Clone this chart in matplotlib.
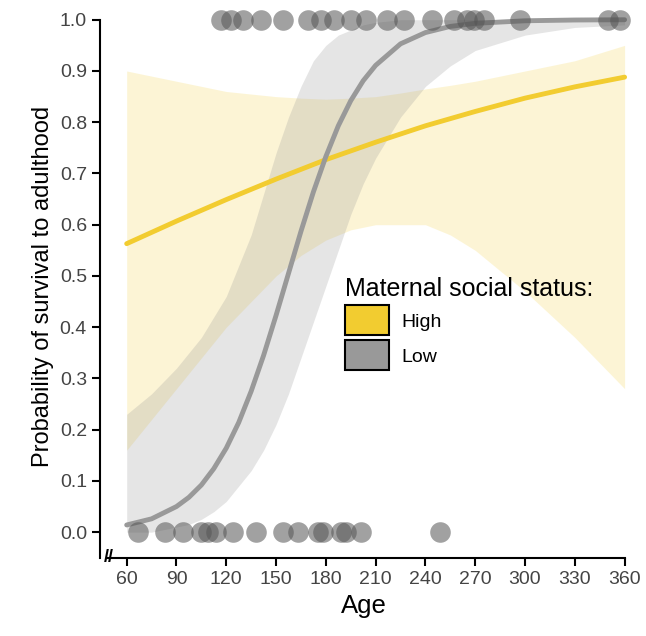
import matplotlib
matplotlib.use("Agg")
import matplotlib.pyplot as plt
from matplotlib.patches import Patch

plt.rcParams["font.family"] = ["Liberation Sans", "DejaVu Sans"]

HIGH_COL = "#f2cc30"
LOW_COL = "#999999"

# observed outcomes (age, survived)
ages_dead = [67, 83, 94, 105, 109, 114, 124, 138, 154, 163, 175, 178, 189, 192, 201, 249]
ages_alive = [117, 123, 130, 141, 154, 169, 177, 185, 195, 204, 217, 227, 244, 257,
              265, 269, 275, 297, 350, 357]

# high-status fit and band
high_ages = [60, 75, 90, 105, 120, 135, 150, 165, 180, 195, 210, 225, 240, 255, 270, 300, 330, 360]
high_fit = [0.563, 0.585, 0.607, 0.628, 0.649, 0.669, 0.689, 0.708, 0.727, 0.744, 0.761,
            0.777, 0.793, 0.807, 0.821, 0.847, 0.869, 0.888]
high_lo = [0.16, 0.22, 0.28, 0.34, 0.40, 0.45, 0.50, 0.54, 0.57, 0.59, 0.60, 0.60, 0.60,
           0.58, 0.55, 0.47, 0.38, 0.28]
high_hi = [0.90, 0.89, 0.88, 0.87, 0.86, 0.855, 0.85, 0.847, 0.845, 0.847, 0.85, 0.857,
           0.865, 0.872, 0.88, 0.90, 0.92, 0.95]

# low-status fit and band
low_ages = [60, 75, 90, 97.5, 105, 112.5, 120, 127.5, 135, 142.5, 150, 157.5, 165, 172.5,
            180, 187.5, 195, 202.5, 210, 225, 240, 255, 270, 300, 330, 360]
low_fit = [0.014, 0.026, 0.050, 0.068, 0.092, 0.124, 0.164, 0.214, 0.275, 0.345, 0.423,
           0.505, 0.587, 0.664, 0.733, 0.793, 0.842, 0.881, 0.911, 0.953, 0.975, 0.987,
           0.993, 0.998, 0.9995, 1.0]
low_lo = [0.0, 0.0, 0.01, 0.015, 0.025, 0.04, 0.06, 0.09, 0.12, 0.16, 0.21, 0.27, 0.34,
          0.41, 0.48, 0.55, 0.62, 0.68, 0.73, 0.81, 0.87, 0.91, 0.94, 0.97, 0.985, 0.99]
low_hi = [0.23, 0.27, 0.32, 0.35, 0.38, 0.42, 0.46, 0.52, 0.58, 0.66, 0.74, 0.81, 0.87,
          0.92, 0.95, 0.97, 0.98, 0.99, 0.995, 1.0, 1.0, 1.0, 1.0, 1.0, 1.0, 1.0]

fig = plt.figure(figsize=(6.46, 6.36), dpi=100)
ax = fig.add_axes([0.155, 0.123, 0.817, 0.854])

ax.fill_between(high_ages, high_lo, high_hi, color=HIGH_COL, alpha=0.2, lw=0)
ax.fill_between(low_ages, low_lo, low_hi, color=LOW_COL, alpha=0.25, lw=0)
ax.plot(high_ages, high_fit, color=HIGH_COL, lw=3.5, solid_capstyle="round")
ax.plot(low_ages, low_fit, color=LOW_COL, lw=3.5, solid_capstyle="round")

ax.scatter(ages_dead, [0] * len(ages_dead), s=220, color="#555555", alpha=0.55, lw=0, zorder=3)
ax.scatter(ages_alive, [1] * len(ages_alive), s=220, color="#555555", alpha=0.55, lw=0,
           zorder=3, clip_on=False)

ax.set_xlim(44, 362)
ax.set_ylim(-0.05, 1.01)
ax.set_xticks(range(60, 361, 30))
ax.set_yticks([i / 10 for i in range(11)])
ax.set_yticklabels([f"{i / 10:.1f}" for i in range(11)])
for s in ("top", "right"):
    ax.spines[s].set_visible(False)
ax.spines["bottom"].set_bounds(48, 360)
ax.spines["left"].set_bounds(-0.05, 1.0)
for s in ("bottom", "left"):
    ax.spines[s].set_linewidth(1.5)
ax.tick_params(labelsize=14, width=1.5, length=6, colors="black", labelcolor="#444444")
ax.text(49, -0.05, "//", fontsize=13, ha="center", va="center", fontweight="bold",
        clip_on=False)
ax.set_xlabel("Age", fontsize=18.5)
ax.set_ylabel("Probability of survival to adulthood", fontsize=17)

handles = [Patch(facecolor=HIGH_COL, edgecolor="black", lw=1.5, label="High"),
           Patch(facecolor=LOW_COL, edgecolor="black", lw=1.5, label="Low")]
ax.legend(handles=handles, title="Maternal social status:", loc="upper left",
          bbox_to_anchor=(0.43, 0.55), frameon=False, fontsize=14,
          title_fontsize=18, handlelength=2.3, handleheight=2.0, labelspacing=0.25,
          handletextpad=0.6, alignment="left")
fig.savefig("out.png", dpi=100)
